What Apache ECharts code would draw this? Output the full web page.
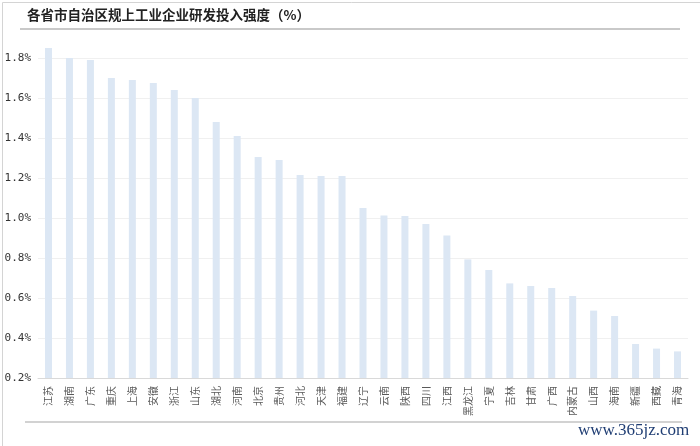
<!DOCTYPE html>
<html>
<head>
<meta charset="utf-8">
<script src="https://cdn.jsdelivr.net/npm/echarts@6/dist/echarts.min.js"></script>
<style>html,body{margin:0;padding:0;background:#fff;}#c{width:700px;height:446px;}</style>
</head>
<body>
<div id="c"></div>
<script>
const titleText = '各省市自治区规上工业企业研发投入强度（%）';
const categories = ['江苏','湖南','广东','重庆','上海','安徽','浙江','山东','湖北','河南','北京','贵州','河北','天津','福建','辽宁','云南','陕西','四川','江西','黑龙江','宁夏','吉林','甘肃','广西','内蒙古','山西','海南','新疆','西藏','青海'];
const values = [1.85,1.80,1.79,1.70,1.69,1.675,1.64,1.60,1.48,1.41,1.305,1.29,1.215,1.21,1.21,1.05,1.013,1.01,0.97,0.913,0.793,0.74,0.673,0.66,0.65,0.61,0.537,0.51,0.37,0.347,0.333];
const yMin = 0.2, yMax = 1.86, yStep = 0.2;
const watermark = 'www.365jz.com';

const chart = echarts.init(document.getElementById('c'), null, {renderer:'canvas'});
const cjk = '"Noto Sans CJK SC", sans-serif';
const gridColors = ['#e6e6e6','#f0f0f0','#f0f0f0','#f0f0f0','#f0f0f0','#f0f0f0','#f0f0f0','#f0f0f0','#f0f0f0','rgba(0,0,0,0)'];
chart.setOption({
  backgroundColor:'#fff',
  animation:false,
  grid:{left:38,right:12,top:46,bottom:68},
  xAxis:{
    type:'category',
    data:categories,
    axisLine:{lineStyle:{color:'#d9d9d9',width:1}},
    axisTick:{show:false},
    axisLabel:{rotate:90,interval:0,fontSize:10,color:'#595959',fontFamily:cjk,margin:8}
  },
  yAxis:{
    type:'value',
    min:yMin,max:yMax,interval:yStep,
    axisLine:{show:false},axisTick:{show:false},
    axisLabel:{showMaxLabel:false,fontSize:11,color:'#333',fontFamily:'"DejaVu Sans Mono", monospace',margin:7,
      formatter:v=>v.toFixed(1)+'%'},
    splitLine:{lineStyle:{color:gridColors,width:1}}
  },
  series:[{
    type:'bar',
    data:values,
    barWidth:7,
    itemStyle:{color:'#dce7f4'}
  }],
  graphic:[
    {type:'rect',left:0,top:0,shape:{x:0.5,y:0.5,width:699,height:445},style:{fill:'none',stroke:'#d4d4d4',lineWidth:1},z:-1},
    {type:'text',left:27,top:8,style:{text:titleText,font:'bold 13.5px "Noto Sans CJK SC", sans-serif',fill:'#222'}},
    {type:'rect',shape:{x:20,y:28,width:660,height:2},style:{fill:'#c9c9c9'}},
    {type:'rect',shape:{x:25,y:421,width:657,height:2},style:{fill:'#d2d2d2'}},
    {type:'text',left:578,top:422,style:{text:watermark,font:'17px "Liberation Serif", serif',fill:'#1f3d73'}}
  ]
});
</script>
</body>
</html>
